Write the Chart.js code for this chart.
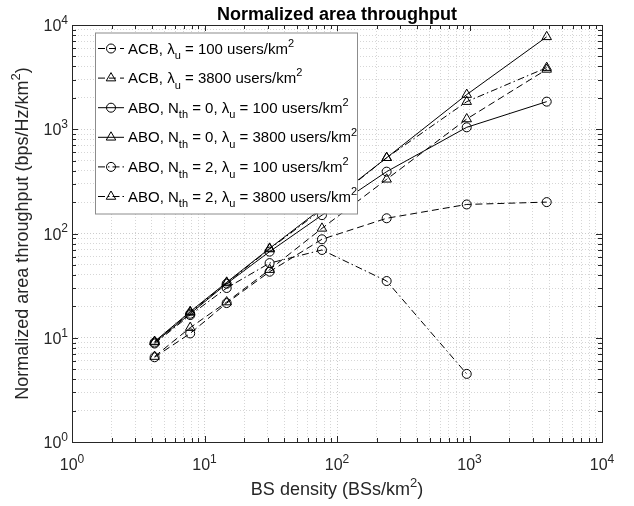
<!DOCTYPE html>
<html><head><meta charset="utf-8">
<script src="https://cdn.jsdelivr.net/npm/chart.js@4/dist/chart.umd.min.js"></script>
<style>html,body{margin:0;padding:0;background:#fff}</style>
</head><body>
<div style="width:634px;height:506px;position:relative"><canvas id="c"></canvas></div>
<script>
// ---- data ----
const bsDensity = [4.2, 7.8, 14.7, 31, 77, 237, 953, 3826];
const acb100    = [6.5, 11, 21.5, 43, 88, 140, 190, 200];
const acb3800   = [6.6, 12.5, 22, 45, 112, 331, 1254, 3750];
const abo0_100  = [9, 17, 33, 67, 150, 392, 1044, 1840];
const abo0_3800 = [9.2, 17.8, 34, 72, 175, 533, 2150, 7700];
const abo2_100  = [8.8, 16.5, 30, 52, 69.5, 35, 4.5, null];
const abo2_3800 = [9.1, 17.5, 33.5, 71, 170, 533, 1840, 3900];
const xTickExps = [0, 1, 2, 3, 4];
const yTickExps = [0, 1, 2, 3, 4];
const titleText = 'Normalized area throughput';
const xTitle = [['BS density (BSs/km'], ['2', 'sup'], [')']];
const yTitle = [['Normalized area throughput (bps/Hz/km'], ['2', 'sup'], [')']];
const legendLabels = [
  [['ACB, '], ['λ'], ['u', 'sub'], [' = 100 users/km'], ['2', 'sup']],
  [['ACB, '], ['λ'], ['u', 'sub'], [' = 3800 users/km'], ['2', 'sup']],
  [['ABO, N'], ['th', 'sub'], [' = 0, '], ['λ'], ['u', 'sub'], [' = 100 users/km'], ['2', 'sup']],
  [['ABO, N'], ['th', 'sub'], [' = 0, '], ['λ'], ['u', 'sub'], [' = 3800 users/km'], ['2', 'sup']],
  [['ABO, N'], ['th', 'sub'], [' = 2, '], ['λ'], ['u', 'sub'], [' = 100 users/km'], ['2', 'sup']],
  [['ABO, N'], ['th', 'sub'], [' = 2, '], ['λ'], ['u', 'sub'], [' = 3800 users/km'], ['2', 'sup']]
];

const FONT = "'Liberation Sans', Arial, Helvetica, sans-serif";
const DASHED = [7, 4];
const DASHDOT = [7, 3, 1.5, 3];
const seriesValues = [acb100, acb3800, abo0_100, abo0_3800, abo2_100, abo2_3800];
const seriesStyles = [
  {dash: DASHED, pt: 'circle'},
  {dash: DASHED, pt: 'triangle'},
  {dash: [], pt: 'circle'},
  {dash: [], pt: 'triangle'},
  {dash: DASHDOT, pt: 'circle'},
  {dash: DASHDOT, pt: 'triangle'}
];

const datasets = seriesValues.map((vals, i) => ({
  label: 'S' + i,
  data: bsDensity.map((x, j) => ({x: x, y: vals[j]})),
  borderColor: '#000',
  borderWidth: 1,
  borderDash: seriesStyles[i].dash,
  pointStyle: seriesStyles[i].pt,
  pointRadius: seriesStyles[i].pt === 'circle' ? 4.5 : 5.5,
  pointBorderWidth: 1,
  pointBorderColor: '#000',
  pointBackgroundColor: 'rgba(0,0,0,0)',
  fill: false,
  tension: 0,
  spanGaps: false
}));

function allLogTicks() {
  const t = [];
  for (let e = 0; e < 4; e++) for (let m = 1; m < 10; m++) t.push({value: m * Math.pow(10, e)});
  t.push({value: 10000});
  return t;
}
function gridColor(ctx) {
  const v = ctx.tick ? ctx.tick.value : 1;
  const l = Math.log10(v);
  return Math.abs(l - Math.round(l)) < 1e-9 ? 'rgba(0,0,0,0.2)' : 'rgba(0,0,0,0.16)';
}

function richWidth(ctx, segs, base) {
  let w = 0;
  for (const s of segs) {
    const k = s[1] || 'n';
    ctx.font = (k === 'n' ? base : Math.round(base * 0.74)) + 'px ' + FONT;
    w += ctx.measureText(s[0]).width;
  }
  return w;
}
function drawRich(ctx, segs, x, y, base, align) {
  const w = richWidth(ctx, segs, base);
  let cx = align === 'center' ? x - w / 2 : (align === 'right' ? x - w : x);
  ctx.textAlign = 'left';
  ctx.textBaseline = 'alphabetic';
  for (const s of segs) {
    const k = s[1] || 'n';
    const sz = k === 'n' ? base : Math.round(base * 0.74);
    ctx.font = sz + 'px ' + FONT;
    const dy = k === 'sub' ? base * 0.38 : (k === 'sup' ? -base * 0.45 : 0);
    ctx.fillText(s[0], cx, y + dy);
    cx += ctx.measureText(s[0]).width;
  }
}

const decor = {
  id: 'decor',
  afterDatasetsDraw(chart) {
    const ctx = chart.ctx;
    const a = chart.chartArea;
    const xs = chart.scales.x, ys = chart.scales.y;
    ctx.save();
    // axes box
    ctx.strokeStyle = '#262626';
    ctx.lineWidth = 1;
    ctx.setLineDash([]);
    ctx.strokeRect(Math.round(a.left) + 0.5, Math.round(a.top) + 0.5, Math.round(a.right - a.left), Math.round(a.bottom - a.top));
    // inner ticks
    const ticks = allLogTicks();
    ctx.beginPath();
    for (const t of ticks) {
      const l = Math.log10(t.value);
      const major = Math.abs(l - Math.round(l)) < 1e-9;
      const len = major ? 6 : 4;
      const px = Math.round(xs.getPixelForValue(t.value)) + 0.5;
      ctx.moveTo(px, a.bottom); ctx.lineTo(px, a.bottom - len);
      ctx.moveTo(px, a.top); ctx.lineTo(px, a.top + len);
      const py = Math.round(ys.getPixelForValue(t.value)) + 0.5;
      ctx.moveTo(a.left, py); ctx.lineTo(a.left + len, py);
      ctx.moveTo(a.right, py); ctx.lineTo(a.right - len, py);
    }
    ctx.stroke();
    // tick labels
    ctx.fillStyle = '#262626';
    for (const e of xTickExps) {
      const px = xs.getPixelForValue(Math.pow(10, e));
      drawRich(ctx, [['10'], [String(e), 'sup']], px, a.bottom + 28, 16, 'center');
    }
    for (const e of yTickExps) {
      const py = ys.getPixelForValue(Math.pow(10, e));
      drawRich(ctx, [['10'], [String(e), 'sup']], a.left - 4, py + 6, 16, 'right');
    }
    // titles
    ctx.fillStyle = '#000';
    ctx.font = 'bold 18px ' + FONT;
    ctx.textAlign = 'center';
    ctx.textBaseline = 'alphabetic';
    ctx.fillText(titleText, (a.left + a.right) / 2, 20);
    ctx.fillStyle = '#262626';
    drawRich(ctx, xTitle, (a.left + a.right) / 2, 495, 18, 'center');
    ctx.save();
    ctx.translate(28, (a.top + a.bottom) / 2);
    ctx.rotate(-Math.PI / 2);
    drawRich(ctx, yTitle, 0, 0, 18, 'center');
    ctx.restore();
    // legend
    const lx = 95, ly = 32.5, lw = 262, lh = 181;
    ctx.fillStyle = '#fff';
    ctx.fillRect(lx, ly, lw, lh);
    ctx.strokeStyle = '#8c8c8c';
    ctx.strokeRect(lx + 0.5, ly + 0.5, lw, lh);
    for (let i = 0; i < legendLabels.length; i++) {
      const cy = 48.5 + i * 29.6;
      ctx.strokeStyle = '#000';
      ctx.lineWidth = 1;
      ctx.setLineDash(seriesStyles[i].dash);
      ctx.beginPath();
      ctx.moveTo(98, cy); ctx.lineTo(124, cy);
      ctx.stroke();
      ctx.setLineDash([]);
      ctx.fillStyle = 'rgba(0,0,0,0)';
      Chart.helpers.drawPoint(ctx, {
        pointStyle: seriesStyles[i].pt,
        radius: seriesStyles[i].pt === 'circle' ? 4.5 : 5.5,
        borderWidth: 1, rotation: 0
      }, 111, cy);
      ctx.fillStyle = '#000';
      drawRich(ctx, legendLabels[i], 128, cy + 5, 15, 'left');
    }
    ctx.restore();
  }
};

new Chart(document.getElementById('c'), {
  type: 'line',
  data: {datasets: datasets},
  options: {
    responsive: true,
    maintainAspectRatio: false,
    animation: false,
    layout: {padding: {left: 72, right: 32, top: 25, bottom: 64}},
    plugins: {legend: {display: false}, title: {display: false}, tooltip: {enabled: false}},
    scales: {
      x: {
        type: 'logarithmic', min: 1, max: 10000,
        afterBuildTicks: s => { s.ticks = allLogTicks(); },
        afterFit: s => { s.height = 0; },
        ticks: {display: false},
        grid: {color: gridColor, lineWidth: 1, drawTicks: false},
        border: {display: false, dash: [1, 2]}
      },
      y: {
        type: 'logarithmic', min: 1, max: 10000,
        afterBuildTicks: s => { s.ticks = allLogTicks(); },
        afterFit: s => { s.width = 0; },
        ticks: {display: false},
        grid: {color: gridColor, lineWidth: 1, drawTicks: false},
        border: {display: false, dash: [1, 2]}
      }
    }
  },
  plugins: [decor]
});
</script>
</body></html>
